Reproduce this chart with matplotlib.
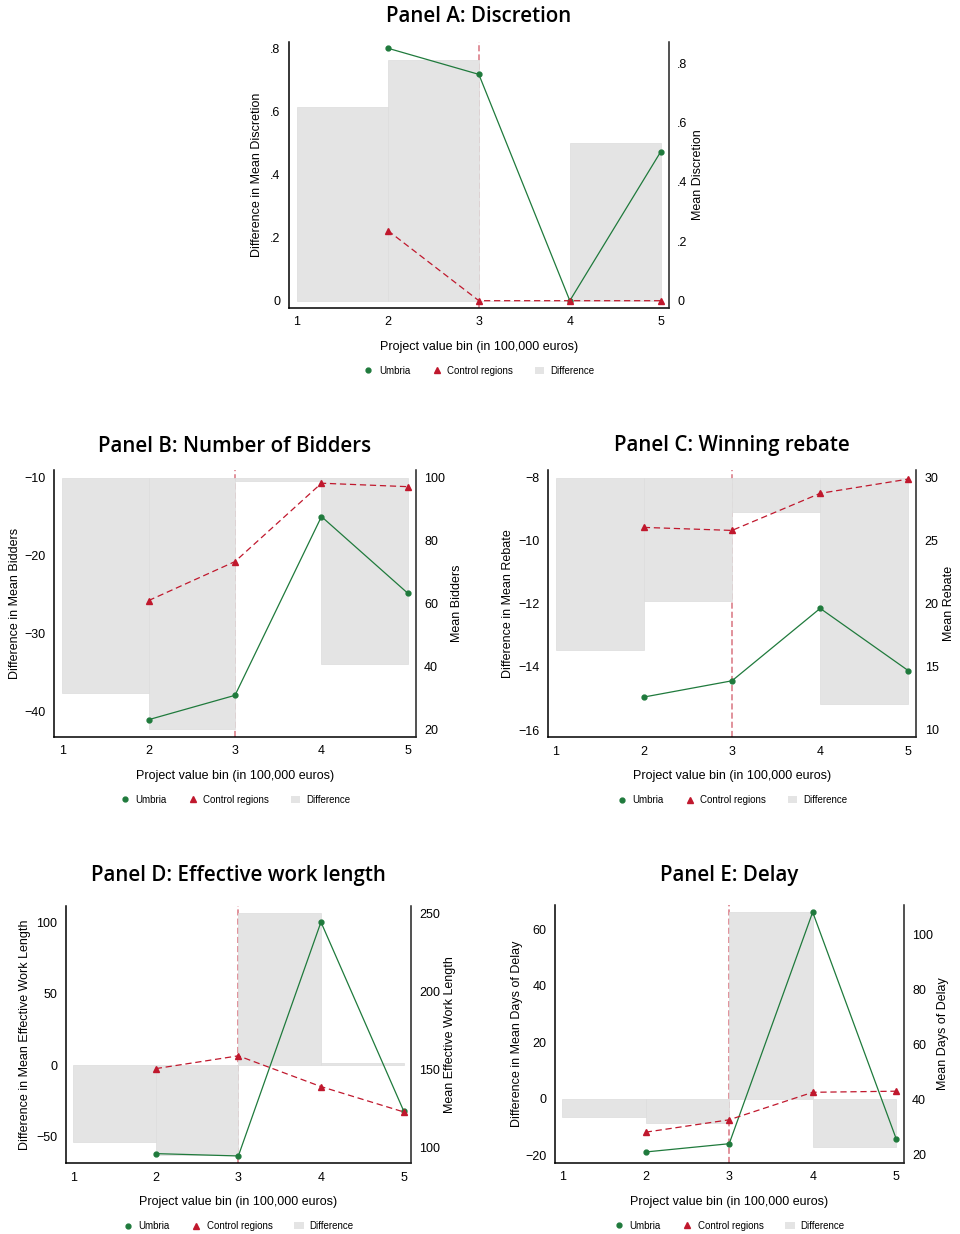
# Regression-discontinuity style panels: Umbria vs control regions by project value bin
import matplotlib
matplotlib.use('Agg')
import matplotlib.pyplot as plt
from matplotlib.lines import Line2D
from matplotlib.patches import Patch

plt.rcParams['font.family'] = ['Liberation Sans', 'DejaVu Sans']

# data (bins 2..5; difference bar for bin k spans [k-1, k])
bins = [1, 2, 3, 4, 5]
line_x = [2, 3, 4, 5]

discretion_umbria = [0.85, 0.762, 0.0, 0.502]
discretion_control = [0.236, 0.0, 0.0, 0.0]
discretion_diff = [0.616, 0.764, 0.0, 0.500]

bidders_umbria = [23.05, 30.8, 87.6, 63.2]
bidders_control = [60.9, 73.3, 98.2, 97.1]
bidders_diff = [-37.64, -42.26, -10.42, -33.9]

rebate_umbria = [12.61, 13.9, 19.64, 14.7]
rebate_control = [26.06, 25.82, 28.76, 29.89]
rebate_diff = [-13.46, -11.9, -9.08, -15.17]

length_umbria = [96.2, 94.7, 244.4, 123.7]
length_control = [150.6, 158.8, 139.1, 122.9]
length_diff = [-53.6, -62.9, 106.1, 1.6]

delay_umbria = [21.1, 24.1, 108.3, 25.9]
delay_control = [28.3, 32.8, 42.8, 43.2]
delay_diff = [-6.6, -8.4, 66.0, -16.9]

GREEN = '#1f7a3c'
RED = '#c0182d'
GREY = '#e4e4e4'

W, H = 960, 1234
fig = plt.figure(figsize=(W / 100, H / 100), dpi=100)

panels = [
    dict(title='Panel A: Discretion', box=(288.7, 669, 41.7, 307.7), title_y=16,
         umbria=discretion_umbria, control=discretion_control, diff=discretion_diff, base=0,
         ylim=(-0.022, 0.823), ylim2=(-0.0236, 0.872),
         yt=[0, .2, .4, .6, .8], ytl=['0', '.2', '.4', '.6', '.8'],
         yt2=[0, .2, .4, .6, .8], ytl2=['0', '.2', '.4', '.6', '.8'],
         ylab='Difference in Mean Discretion', ylab2='Mean Discretion', lpad=26, rpad=23),
    dict(title='Panel B: Number of Bidders', box=(54.3, 415.7, 470, 736.7), title_y=446,
         umbria=bidders_umbria, control=bidders_control, diff=bidders_diff, base=-10,
         ylim=(-43.2, -9.01), ylim2=(17.65, 102.4),
         yt=[-40, -30, -20, -10], ytl=None, yt2=[20, 40, 60, 80, 100], ytl2=None,
         ylab='Difference in Mean Bidders', ylab2='Mean Bidders', lpad=33, rpad=35),
    dict(title='Panel C: Winning rebate', box=(547.7, 916.3, 470, 737.3), title_y=446,
         umbria=rebate_umbria, control=rebate_control, diff=rebate_diff, base=-8,
         ylim=(-16.23, -7.76), ylim2=(9.42, 30.61),
         yt=[-16, -14, -12, -10, -8], ytl=None, yt2=[10, 15, 20, 25, 30], ytl2=None,
         ylab='Difference in Mean Rebate', ylab2='Mean Rebate', lpad=34, rpad=27),
    dict(title='Panel D: Effective work length', box=(65.7, 411, 906, 1163.3), title_y=875,
         umbria=length_umbria, control=length_control, diff=length_diff, base=0,
         ylim=(-68.7, 111.2), ylim2=(90.0, 254.7),
         yt=[-50, 0, 50, 100], ytl=None, yt2=[100, 150, 200, 250], ytl2=None,
         ylab='Difference in Mean Effective Work Length', ylab2='Mean Effective Work Length',
         lpad=35, rpad=33),
    dict(title='Panel E: Delay', box=(554.7, 903.7, 905, 1162.7), title_y=876,
         umbria=delay_umbria, control=delay_control, diff=delay_diff, base=0,
         ylim=(-22.6, 68.5), ylim2=(17.2, 110.9),
         yt=[-20, 0, 20, 40, 60], ytl=None, yt2=[20, 40, 60, 80, 100], ytl2=None,
         ylab='Difference in Mean Days of Delay', ylab2='Mean Days of Delay', lpad=32, rpad=33),
]

for p in panels:
    l, r, t, b = p['box']
    wpx, hpx = r - l, b - t
    ax = fig.add_axes([l / W, 1 - b / H, wpx / W, hpx / H])
    ax2 = ax.twinx()

    base = p['base']
    heights = [d - base for d in p['diff']]
    ax.bar(bins[:-1], heights, width=1, align='edge', bottom=base,
           color=GREY, edgecolor='#dcdcdc', linewidth=0.5, zorder=2)
    ax.axvline(3, color=RED, alpha=0.6, linestyle=(0, (4, 2)), linewidth=1.1, zorder=1)

    ax2.plot(line_x, p['umbria'], color=GREEN, linewidth=0.9, marker='o', markersize=3.5)
    ax2.plot(line_x, p['control'], color=RED, linewidth=0.9, linestyle=(0, (5, 3)),
             marker='^', markersize=4)

    ax.set_xlim(0.91, 5.09)
    ax.set_ylim(*p['ylim'])
    ax2.set_ylim(*p['ylim2'])
    ax.set_xticks(bins)
    ax.set_yticks(p['yt'])
    ax2.set_yticks(p['yt2'])
    if p['ytl']:
        ax.set_yticklabels(p['ytl'])
    if p['ytl2']:
        ax2.set_yticklabels(p['ytl2'])

    for a in (ax, ax2):
        a.spines['top'].set_visible(False)
        a.tick_params(length=0, labelsize=9, pad=6)
        a.set_facecolor('none')
    ax.spines['right'].set_visible(False)
    ax2.spines['left'].set_visible(False)
    ax2.spines['bottom'].set_visible(False)
    ax.spines['left'].set_linewidth(1.1)
    ax.spines['bottom'].set_linewidth(1.1)
    ax2.spines['right'].set_linewidth(1.1)
    ax2.spines['right'].set_color('#222222')

    ax.set_xlabel('Project value bin (in 100,000 euros)', fontsize=9)
    ax.xaxis.set_label_coords(0.5, -33 / hpx)
    ax.set_ylabel(p['ylab'], fontsize=9)
    ax.yaxis.set_label_coords(-p['lpad'] / wpx, 0.5)
    ax2.set_ylabel(p['ylab2'], fontsize=9)
    ax2.yaxis.set_label_coords(1 + p['rpad'] / wpx, 0.5)

    fig.text((l + r) / 2 / W, 1 - p['title_y'] / H, p['title'], ha='center', va='center',
             fontsize=14.8, fontweight='semibold', family='Open Sans')

    handles = [
        Line2D([], [], color=GREEN, marker='o', linestyle='none', markersize=3.5),
        Line2D([], [], color=RED, marker='^', linestyle='none', markersize=4),
        Patch(facecolor=GREY, edgecolor='none'),
    ]
    ax2.legend(handles, ['Umbria', 'Control regions', 'Difference'], ncol=3,
               loc='center', bbox_to_anchor=(0.5, -63 / hpx), frameon=False,
               fontsize=7, handlelength=1.0, handletextpad=0.6, columnspacing=2.2)

fig.savefig('out.png', dpi=100)
